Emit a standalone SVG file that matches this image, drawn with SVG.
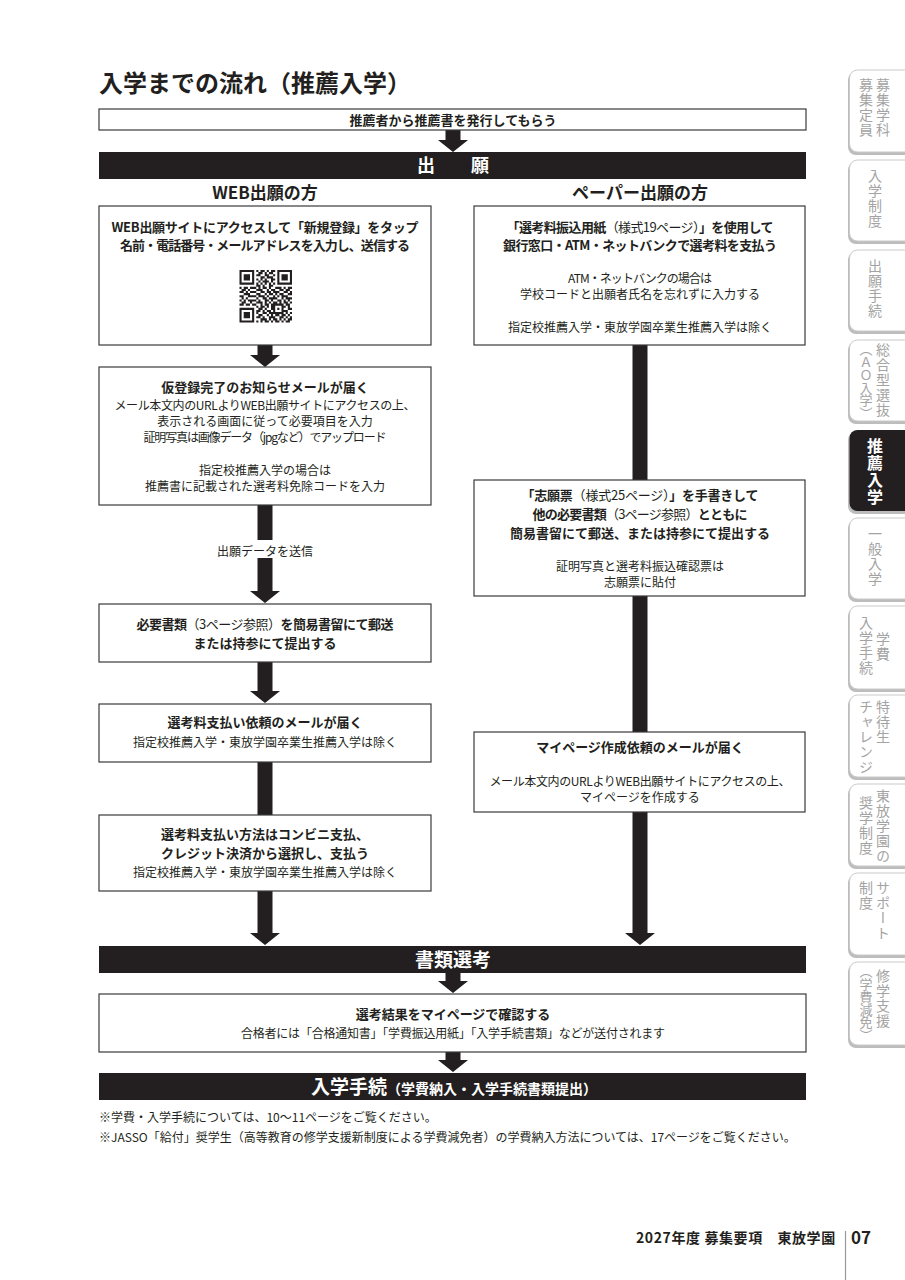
<svg xmlns="http://www.w3.org/2000/svg" width="905" height="1280" viewBox="0 0 905 1280">
<style>
text{font-family:"Noto Sans CJK JP","Noto Sans CJK SC",sans-serif;fill:#231f20}
.t{font-size:24px;font-weight:700}
.b{font-size:13px;font-weight:700;text-anchor:middle}
.n{font-size:12px;font-weight:400;text-anchor:middle}
.nw{font-weight:400}
.h{font-size:17px;font-weight:700;text-anchor:middle}
.bar{fill:#231f20}
.bt{fill:#fff;font-weight:700;text-anchor:middle}
.box{fill:#fff;stroke:#3a3a3a;stroke-width:1.2}
.arr{fill:#231f20}
.note{font-size:12px}
.tab{fill:#fff;stroke:#c9c9c9;stroke-width:1}
.tsh{fill:#bdbdbd}
.tt{font-size:14px;fill:#a3a3a3;writing-mode:vertical-rl;letter-spacing:1px}
.tp{font-size:13px;letter-spacing:-0.3px}
.tw{font-size:16px;fill:#fff;font-weight:700;writing-mode:vertical-rl;letter-spacing:1px}
.ft{font-size:14px;font-weight:700;letter-spacing:0.6px}
</style>

<text class="t" x="99" y="92">入学までの流れ（推薦入学）</text>

<g id="connectors">
<path class="arr" d="M445.5 130H460.5V140H468L453 152L438 140H445.5Z"/>
<path class="arr" d="M257.5 345H272.5V355H280L265 367L250 355H257.5Z"/>
<rect class="arr" x="257.5" y="505" width="15" height="35"/>
<path class="arr" d="M257.5 558H272.5V591H280L265 603L250 591H257.5Z"/>
<path class="arr" d="M257.5 662H272.5V691H280L265 703L250 691H257.5Z"/>
<rect class="arr" x="257.5" y="762" width="15" height="53"/>
<path class="arr" d="M257.5 891H272.5V933H280L265 945L250 933H257.5Z"/>
<rect class="arr" x="632.5" y="345" width="15" height="135"/>
<rect class="arr" x="632.5" y="596" width="15" height="136"/>
<path class="arr" d="M632.5 812H647.5V933H655L640 945L625 933H632.5Z"/>
<path class="arr" d="M445.5 973H460.5V981H468L453 993L438 981H445.5Z"/>
<path class="arr" d="M445.5 1052H460.5V1060H468L453 1072L438 1060H445.5Z"/>
<text class="n" x="265" y="555.5">出願データを送信</text>
</g>

<g id="recommend">
<rect class="box" x="99" y="109" width="707" height="21"/>
<text class="b" x="453" y="124.5">推薦者から推薦書を発行してもらう</text>
</g>

<g id="bar-apply">
<rect class="bar" x="99" y="152" width="707" height="27"/>
<text class="bt" x="453" y="172" font-size="18">出　　願</text>
</g>

<g id="head-web"><text class="h" x="265" y="198.5">WEB出願の方</text></g>
<g id="head-paper"><text class="h" x="640" y="198.5">ペーパー出願の方</text></g>

<g id="web1">
<rect class="box" x="99" y="206" width="332" height="139"/>
<text class="b" x="265" y="232" textLength="307" lengthAdjust="spacing">WEB出願サイトにアクセスして「新規登録」をタップ</text>
<text class="b" x="265" y="250" textLength="290" lengthAdjust="spacing">名前・電話番号・メールアドレスを入力し、送信する</text>
<g transform="translate(239.5 270) scale(2.1)" fill="#231f20">
<path fill-rule="evenodd" d="M0 0h7v7H0z M1 1h5v5H1z M2 2h3v3H2z M18 0h7v7h-7z M19 1h5v5h-5z M20 2h3v3h-3z M0 18h7v7H0z M1 19h5v5H1z M2 20h3v3H2z"/>
<path d="M8 0h1v1h-1z M10 0h2v1h-2z M13 0h1v1h-1z M15 0h2v1h-2z
M9 1h2v1h-2z M12 1h1v1h-1z M14 1h2v1h-2z
M8 2h2v1h-2z M12 2h2v1h-2z M16 2h1v1h-1z
M10 3h2v1h-2z M13 3h3v1h-3z
M8 4h1v1h-1z M10 4h1v1h-1z M12 4h1v1h-1z M15 4h2v1h-2z
M9 5h1v1h-1z M11 5h3v1h-3z M15 5h1v1h-1z
M8 6h1v1h-1z M10 6h1v1h-1z M12 6h1v1h-1z M14 6h1v1h-1z M16 6h1v1h-1z
M8 7h2v1h-2z M11 7h1v1h-1z M14 7h2v1h-2z
M0 8h1v1h-1z M2 8h2v1h-2z M5 8h3v1h-3z M9 8h1v1h-1z M11 8h2v1h-2z M14 8h1v1h-1z M17 8h3v1h-3z M21 8h1v1h-1z M23 8h2v1h-2z
M1 9h2v1h-2z M4 9h1v1h-1z M8 9h3v1h-3z M13 9h1v1h-1z M15 9h2v1h-2z M19 9h2v1h-2z M22 9h2v1h-2z
M0 10h2v1h-2z M3 10h1v1h-1z M5 10h3v1h-3z M10 10h2v1h-2z M13 10h2v1h-2z M16 10h3v1h-3z M21 10h2v1h-2z M24 10h1v1h-1z
M2 11h3v1h-3z M8 11h2v1h-2z M12 11h1v1h-1z M14 11h2v1h-2z M17 11h1v1h-1z M19 11h2v1h-2z M23 11h2v1h-2z
M0 12h2v1h-2z M4 12h4v1h-4z M9 12h3v1h-3z M13 12h1v1h-1z M16 12h1v1h-1z M18 12h1v1h-1z M20 12h3v1h-3z
M1 13h1v1h-1z M3 13h1v1h-1z M8 13h1v1h-1z M11 13h2v1h-2z M14 13h4v1h-4z M20 13h1v1h-1z M22 13h3v1h-3z
M0 14h1v1h-1z M2 14h1v1h-1z M4 14h4v1h-4z M9 14h1v1h-1z M12 14h2v1h-2z M15 14h1v1h-1z M18 14h2v1h-2z M21 14h1v1h-1z M23 14h1v1h-1z
M1 15h2v1h-2z M5 15h1v1h-1z M8 15h3v1h-3z M12 15h1v1h-1z M14 15h1v1h-1z M16 15h2v1h-2z M19 15h1v1h-1z M21 15h2v1h-2z M24 15h1v1h-1z
M0 16h2v1h-2z M3 16h2v1h-2z M6 16h2v1h-2z M10 16h1v1h-1z M12 16h2v1h-2z M15 16h6v1h-6z M22 16h2v1h-2z
M8 17h1v1h-1z M10 17h2v1h-2z M13 17h1v1h-1z M15 17h2v1h-2z M20 17h2v1h-2z M23 17h1v1h-1z
M9 18h2v1h-2z M12 18h1v1h-1z M15 18h2v1h-2z M18 18h1v1h-1z M20 18h1v1h-1z M23 18h2v1h-2z
M8 19h2v1h-2z M11 19h1v1h-1z M13 19h2v1h-2z M16 19h1v1h-1z M20 19h3v1h-3z
M8 20h1v1h-1z M11 20h2v1h-2z M14 20h7v1h-7z M22 20h1v1h-1z M24 20h1v1h-1z
M9 21h2v1h-2z M13 21h1v1h-1z M15 21h1v1h-1z M17 21h2v1h-2z M20 21h2v1h-2z M23 21h1v1h-1z
M8 22h2v1h-2z M11 22h1v1h-1z M14 22h3v1h-3z M19 22h2v1h-2z M22 22h1v1h-1z M24 22h1v1h-1z
M10 23h3v1h-3z M14 23h1v1h-1z M16 23h2v1h-2z M19 23h1v1h-1z M21 23h1v1h-1z M23 23h2v1h-2z
M8 24h1v1h-1z M10 24h1v1h-1z M12 24h2v1h-2z M15 24h1v1h-1z M17 24h2v1h-2z M20 24h1v1h-1z M22 24h2v1h-2z"/>
</g>
</g>

<g id="web2">
<rect class="box" x="99" y="367" width="332" height="138"/>
<text class="b" x="265" y="392">仮登録完了のお知らせメールが届く</text>
<text class="n" x="265" y="409.5" textLength="301" lengthAdjust="spacing">メール本文内のURLよりWEB出願サイトにアクセスの上、</text>
<text class="n" x="265" y="425.5">表示される画面に従って必要項目を入力</text>
<text class="n" x="265" y="441.5" textLength="243" lengthAdjust="spacing">証明写真は画像データ（jpgなど）でアップロード</text>
<text class="n" x="265" y="474.5">指定校推薦入学の場合は</text>
<text class="n" x="265" y="490.5">推薦書に記載された選考料免除コードを入力</text>
</g>

<g id="web3">
<rect class="box" x="99" y="604" width="332" height="58"/>
<text class="b" x="265" y="629" textLength="257" lengthAdjust="spacing">必要書類<tspan class="nw">（3ページ参照）</tspan>を簡易書留にて郵送</text>
<text class="b" x="265" y="648">または持参にて提出する</text>
</g>

<g id="web4">
<rect class="box" x="99" y="704" width="332" height="58"/>
<text class="b" x="265" y="727">選考料支払い依頼のメールが届く</text>
<text class="n" x="265" y="746.5">指定校推薦入学・東放学園卒業生推薦入学は除く</text>
</g>

<g id="web5">
<rect class="box" x="99" y="815" width="332" height="76"/>
<text class="b" x="265" y="839">選考料支払い方法はコンビニ支払、</text>
<text class="b" x="265" y="858">クレジット決済から選択し、支払う</text>
<text class="n" x="265" y="876.5">指定校推薦入学・東放学園卒業生推薦入学は除く</text>
</g>

<g id="paper1">
<rect class="box" x="474" y="206" width="331" height="139"/>
<text class="b" x="640" y="232" textLength="267" lengthAdjust="spacing">「選考料振込用紙<tspan class="nw">（様式19ページ）</tspan>」を使用して</text>
<text class="b" x="640" y="250" textLength="274" lengthAdjust="spacing">銀行窓口・ATM・ネットバンクで選考料を支払う</text>
<text class="n" x="640" y="282.5" textLength="144" lengthAdjust="spacing">ATM・ネットバンクの場合は</text>
<text class="n" x="640" y="298.5">学校コードと出願者氏名を忘れずに入力する</text>
<text class="n" x="640" y="331.5">指定校推薦入学・東放学園卒業生推薦入学は除く</text>
</g>

<g id="paper2">
<rect class="box" x="474" y="480" width="331" height="116"/>
<text class="b" x="640" y="500" textLength="237" lengthAdjust="spacing">「志願票<tspan class="nw">（様式25ページ）</tspan>」を手書きして</text>
<text class="b" x="640" y="519" textLength="215" lengthAdjust="spacing">他の必要書類<tspan class="nw">（3ページ参照）</tspan>とともに</text>
<text class="b" x="640" y="538">簡易書留にて郵送、または持参にて提出する</text>
<text class="n" x="640" y="570.5">証明写真と選考料振込確認票は</text>
<text class="n" x="640" y="586.5">志願票に貼付</text>
</g>

<g id="paper3">
<rect class="box" x="474" y="732" width="331" height="80"/>
<text class="b" x="640" y="752">マイページ作成依頼のメールが届く</text>
<text class="n" x="640" y="785.5" textLength="301" lengthAdjust="spacing">メール本文内のURLよりWEB出願サイトにアクセスの上、</text>
<text class="n" x="640" y="801.5">マイページを作成する</text>
</g>

<g id="bar-screening">
<rect class="bar" x="99" y="946" width="707" height="27"/>
<text class="bt" x="453" y="966.5" font-size="19">書類選考</text>
</g>

<g id="result">
<rect class="box" x="99" y="994" width="707" height="58"/>
<text class="b" x="453" y="1019">選考結果をマイページで確認する</text>
<text class="n" x="453" y="1037.5" textLength="424" lengthAdjust="spacing">合格者には「合格通知書」「学費振込用紙」「入学手続書類」などが送付されます</text>
</g>

<g id="bar-enroll">
<rect class="bar" x="99" y="1073" width="707" height="27"/>
<text class="bt" x="454" y="1093.5" font-size="19">入学手続<tspan font-size="14">（学費納入・入学手続書類提出）</tspan></text>
</g>

<g id="notes">
<text class="note" x="99" y="1121.5">※学費・入学手続については、10〜11ページをご覧ください。</text>
<text class="note" x="99" y="1141.5">※JASSO「給付」奨学生（高等教育の修学支援新制度による学費減免者）の学費納入方法については、17ページをご覧ください。</text>
</g>

<g id="tabs">
<g id="tab1"><rect class="tsh" x="848" y="72" width="80" height="83" rx="8"/><rect class="tab" x="849.5" y="70" width="80" height="82" rx="8"/>
<text class="tt" x="883" y="78">募集学科</text><text class="tt" x="866" y="78">募集定員</text></g>
<g id="tab2"><rect class="tsh" x="848" y="162" width="80" height="82" rx="8"/><rect class="tab" x="849.5" y="160" width="80" height="81" rx="8"/>
<text class="tt" x="875" y="169">入学制度</text></g>
<g id="tab3"><rect class="tsh" x="848" y="252" width="80" height="82" rx="8"/><rect class="tab" x="849.5" y="250" width="80" height="81" rx="8"/>
<text class="tt" x="875" y="259">出願手続</text></g>
<g id="tab4"><rect class="tsh" x="848" y="342" width="80" height="82" rx="8"/><rect class="tab" x="849.5" y="340" width="80" height="81" rx="8"/>
<text class="tt" x="883" y="343">総合型選抜</text><text class="tt tp" x="866" y="343">（ＡＯ入学）</text></g>
<g id="tab5"><rect class="tsh" x="848" y="432" width="80" height="82" rx="8"/><rect x="849.5" y="430" width="80" height="81" rx="8" fill="#231f20"/>
<text class="tw" x="875" y="438">推薦入学</text></g>
<g id="tab6"><rect class="tsh" x="848" y="520" width="80" height="82" rx="8"/><rect class="tab" x="849.5" y="518" width="80" height="81" rx="8"/>
<text class="tt" x="875" y="527">一般入学</text></g>
<g id="tab7"><rect class="tsh" x="848" y="608" width="80" height="84" rx="8"/><rect class="tab" x="849.5" y="606" width="80" height="83" rx="8"/>
<text class="tt" x="883" y="632">学費</text><text class="tt" x="866" y="616">入学手続</text></g>
<g id="tab8"><rect class="tsh" x="848" y="697" width="80" height="83" rx="8"/><rect class="tab" x="849.5" y="695" width="80" height="82" rx="8"/>
<text class="tt" x="883" y="700">特待生</text><text class="tt" x="866" y="700">チャレンジ</text></g>
<g id="tab9"><rect class="tsh" x="848" y="786" width="80" height="83" rx="8"/><rect class="tab" x="849.5" y="784" width="80" height="82" rx="8"/>
<text class="tt" x="883" y="789">東放学園の</text><text class="tt" x="866" y="796">奨学制度</text></g>
<g id="tab10"><rect class="tsh" x="848" y="875" width="80" height="83" rx="8"/><rect class="tab" x="849.5" y="873" width="80" height="82" rx="8"/>
<text class="tt" x="883" y="881">サポート</text><text class="tt" x="866" y="881">制度</text></g>
<g id="tab11"><rect class="tsh" x="848" y="964" width="80" height="84" rx="8"/><rect class="tab" x="849.5" y="962" width="80" height="83" rx="8"/>
<text class="tt" x="883" y="969">修学支援</text><text class="tt tp" x="866" y="965">（学費減免）</text></g>
</g>

<g id="footer">
<text class="ft" x="636" y="1243">2027年度 募集要項　東放学園</text>
<line x1="845.5" y1="1231" x2="845.5" y2="1280" stroke="#9a9a9a" stroke-width="1.2"/>
<text x="851" y="1244" font-size="17" font-weight="700">07</text>
</g>
</svg>
